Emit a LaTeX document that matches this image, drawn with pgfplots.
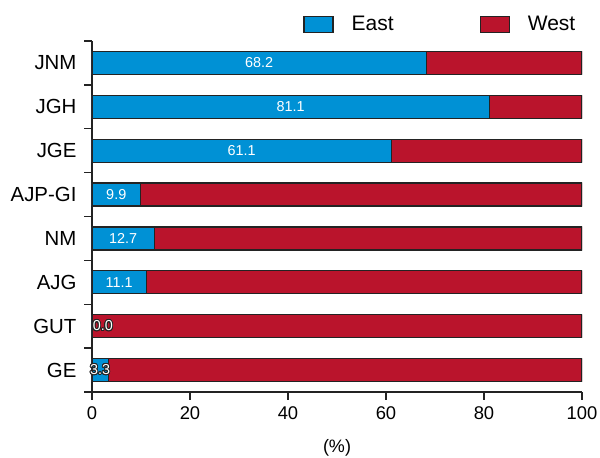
\documentclass[border=0pt]{standalone}
\usepackage{fontspec}
\setmainfont{Liberation Sans}
\usepackage{pgfplots}
\pgfplotsset{compat=1.18}
\usepackage{contour}
\contourlength{0.45pt}

\definecolor{eastblue}{RGB}{0,145,213}
\definecolor{westred}{RGB}{186,20,44}
\definecolor{edge}{RGB}{35,35,35}

\begin{document}
\begin{tikzpicture}
\pgfplotsset{
  swatch/.style={legend image code/.code={\draw[##1] (0pt,-4pt) rectangle (14.5pt,4pt);}},
}
\begin{axis}[
  name=ax,
  scale only axis,
  width=245pt, height=175.5pt,
  xbar, bar width=11.5pt, bar shift=0pt,
  xmin=0, xmax=100,
  ymin=-0.5, ymax=7.5,
  axis lines*=left,
  axis line style={edge, line width=0.7pt},
  tick align=outside,
  major tick length=3.75pt,
  tick style={edge, line width=0.7pt},
  xtick={0,20,...,100},
  /pgf/number format/assume math mode=true,
  xticklabel style={font=\fontsize{9.2}{11}\selectfont},
  ytick={-0.5,0.5,...,7.5},
  yticklabels={},
  extra y ticks={0,1,2,3,4,5,6,7},
  extra y tick labels={GE,GUT,AJG,NM,AJP-GI,JGE,JGH,JNM},
  extra y tick style={tick style={draw=none},
    yticklabel style={font=\fontsize{10.2}{12}\selectfont, xshift=-0.5pt}},
  xlabel={(\%)},
  xlabel style={at={(axis description cs:0.5,0)}, anchor=center, yshift=-28pt,
    font=\fontsize{9}{11}\selectfont},
  legend columns=2,
  legend style={at={(0.4306,1.046)}, anchor=west, draw=none, fill=none,
    inner sep=0pt, font=\fontsize{10.5}{12}\selectfont,
    nodes={inner sep=0pt},
    /tikz/every odd column/.append style={column sep=9pt},
    /tikz/every even column/.append style={column sep=43pt}},
]
% West share drawn as the full row, East share on top of it
\addplot[forget plot, fill=westred, draw=edge, line width=0.6pt]
  coordinates {(100,0) (100,1) (100,2) (100,3) (100,4) (100,5) (100,6) (100,7)};
\addplot[swatch, fill=eastblue, draw=edge, line width=0.6pt]
  coordinates {(3.3,0) (0.0,1) (11.1,2) (12.7,3) (9.9,4) (61.1,5) (81.1,6) (68.2,7)};
\addlegendentry{East}
\addlegendimage{swatch, fill=westred, draw=edge, line width=0.6pt}
\addlegendentry{West}
% value labels
\addplot[forget plot, sharp plot, draw=none, mark=none,
  nodes near coords, point meta=explicit symbolic,
  every node near coord/.append style={anchor=center, text=white,
    font=\fontsize{7.2}{9}\selectfont}]
  coordinates {(5.55,2) [11.1] (6.35,3) [12.7] (4.95,4) [9.9]
    (30.55,5) [61.1] (40.55,6) [81.1] (34.1,7) [68.2]};
\addplot[forget plot, sharp plot, draw=none, mark=none,
  nodes near coords={\contour{edge}{\pgfplotspointmeta}}, point meta=explicit symbolic,
  every node near coord/.append style={anchor=center, text=white,
    font=\fontsize{7.2}{9}\selectfont}]
  coordinates {(1.65,0) [3.3] (2.2,1) [0.0]};
\end{axis}
\pgfresetboundingbox
\path (ax.south west) ++(-46pt,-32.5pt) rectangle ++(300pt,228.5pt);
\end{tikzpicture}
\end{document}
